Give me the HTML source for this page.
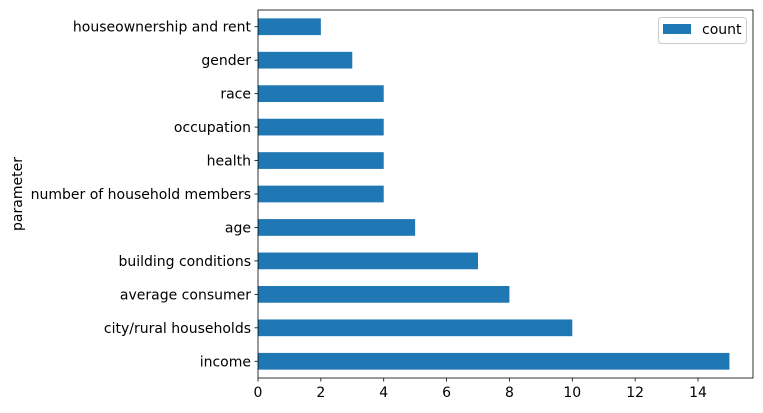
<!DOCTYPE html>
<html><head><meta charset="utf-8"><style>
body{margin:0;background:#fff;}
svg{display:block;font-family:"DejaVu Sans","Liberation Sans",sans-serif;}
</style></head><body>
<svg id="chart" width="763" height="413"></svg>
<script>
const categories=["income","city/rural households","average consumer","building conditions","age","number of household members","health","occupation","race","gender","houseownership and rent"];
const counts=[15,10,8,7,5,4,4,4,4,3,2];
const xTicks=[0,2,4,6,8,10,12,14];
const ns="http://www.w3.org/2000/svg";
const svg=document.getElementById('chart');
const L=258,R=753,T=10,B=378,xmax=15.75,FS=14;
const xs=v=>L+v/xmax*(R-L);
const band=(B-T)/categories.length;
const yc=i=>B-(i+0.5)*band;
function mk(t,a,p){const e=document.createElementNS(ns,t);for(const k in a)e.setAttribute(k,a[k]);(p||svg).appendChild(e);return e;}
categories.forEach((c,i)=>{
  const r=mk('rect',{x:xs(0),y:yc(i)-band*0.25,width:xs(counts[i])-xs(0),height:band*0.5,fill:'#1f77b4'});
  
  
  mk('line',{x1:L-3.5,x2:L,y1:yc(i),y2:yc(i),stroke:'#000','stroke-width':0.8});
  const t=mk('text',{x:L-7,y:yc(i)+5,'text-anchor':'end','font-size':FS,fill:'#000'});
  t.textContent=c;
  
  
});
xTicks.forEach(v=>{
  mk('line',{x1:xs(v),x2:xs(v),y1:B,y2:B+3.5,stroke:'#000','stroke-width':0.8});
  const t=mk('text',{x:xs(v),y:B+19,'text-anchor':'middle','font-size':FS,fill:'#000'});
  t.textContent=v;
  
  
});
const fr=mk('rect',{x:L,y:T,width:R-L,height:B-T,fill:'none',stroke:'#000','stroke-width':0.8});


const yl=mk('text',{x:0,y:0,transform:'translate(22,194) rotate(-90)','text-anchor':'middle','font-size':FS,fill:'#000'});
yl.textContent='parameter';


const lg=mk('g',{});


mk('rect',{x:658.5,y:17.5,width:88,height:26,rx:3,fill:'#fff',stroke:'#ccc','stroke-width':1},lg);
mk('rect',{x:663,y:24,width:28,height:10,fill:'#1f77b4'},lg);
const lt=mk('text',{x:702,y:34,'font-size':FS,fill:'#000'},lg);
lt.textContent='count';


</script>
</body></html>
